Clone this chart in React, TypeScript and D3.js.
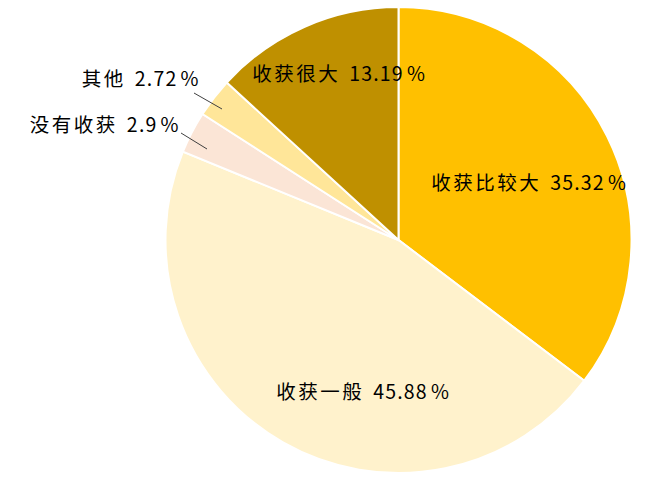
import React from "react";
import * as d3 from "d3";

const categories = ["收获比较大", "收获一般", "没有收获", "其他", "收获很大"];
const values = [35.32, 45.88, 2.9, 2.72, 13.19];
const colors = ["#FFC000", "#FFF2CC", "#FBE5D6", "#FFE699", "#BF9000"];

const W = 669;
const H = 501;
const cx = 398.5;
const cy = 240;
const R = 233;

// label layout relative to pie center; leader line (outside labels) as [x1,y1,x2,y2]
const labelLayout: { x: number; y: number; anchor: string; line?: number[] }[] = [
  { x: 130, y: -59, anchor: "middle" },
  { x: -36, y: 150, anchor: "middle" },
  { x: -220, y: -117, anchor: "end", line: [-217.5, -107, -191.5, -91] },
  { x: -200, y: -163, anchor: "end", line: [-204.5, -147, -176.5, -131] },
  { x: -60, y: -168, anchor: "middle" },
];

export default function App() {
  const pie = d3
    .pie<number>()
    .sort(null)
    .value((d) => d);
  const arcs = pie(values);
  const arc = d3.arc<d3.PieArcDatum<number>>().innerRadius(0).outerRadius(R);

  return (
    <svg
      width={W}
      height={H}
      style={{ position: "absolute", left: 0, top: 0, background: "#fff" }}
    >
      <g transform={`translate(${cx},${cy})`}>
        {arcs.map((a, i) => (
          <path
            key={i}
            d={arc(a) || ""}
            fill={colors[i]}
            stroke="#fff"
            strokeWidth={2}
          />
        ))}
        {arcs.map((a, i) => {
          const l = labelLayout[i];
          return (
            <g key={"l" + i}>
              {l.line && (
                <line
                  x1={l.line[0]}
                  y1={l.line[1]}
                  x2={l.line[2]}
                  y2={l.line[3]}
                  stroke="#404040"
                  strokeWidth={1}
                />
              )}
              <text
                x={l.x}
                y={l.y}
                textAnchor={l.anchor}
                dominantBaseline="central"
                fontFamily="'Noto Sans CJK SC', sans-serif"
                fontSize={19.5}
                fill="#000"
              >
                <tspan letterSpacing={2.5}>{categories[i]}</tspan>
                <tspan dx={9} letterSpacing={1.2}>{String(values[i])}</tspan>
                <tspan dx={3}>%</tspan>
              </text>
            </g>
          );
        })}
      </g>
    </svg>
  );
}
